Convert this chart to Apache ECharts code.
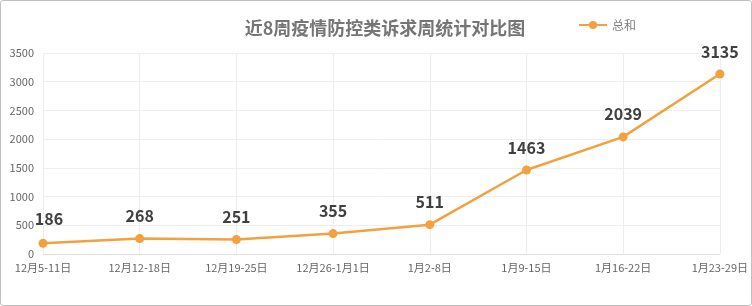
<!DOCTYPE html>
<html><head><meta charset="utf-8">
<script src="https://cdn.jsdelivr.net/npm/echarts@6/dist/echarts.min.js"></script>
<style>
html,body{margin:0;padding:0;background:#fff;}
#c{width:750px;height:304px;border:1px solid #c0c0c0;border-radius:3px;}
</style></head>
<body><div id="c"></div>
<script>
const categories = ['12月5-11日','12月12-18日','12月19-25日','12月26-1月1日','1月2-8日','1月9-15日','1月16-22日','1月23-29日'];
const totals = [186, 268, 251, 355, 511, 1463, 2039, 3135];
const seriesName = '总和';
const titleText = '近8周疫情防控类诉求周统计对比图';

const chart = echarts.init(document.getElementById('c'));
const font = '"Noto Sans CJK SC", "Microsoft YaHei", sans-serif';
const data = totals.map((v, i) => i === 0
  ? {value: v, label: {offset: [6, -2]}}
  : v);
chart.setOption({
  animation: false,
  textStyle: {fontFamily: font},
  title: {
    text: titleText, left: 379, top: 13, textAlign: 'center',
    textStyle: {fontSize: 18, fontWeight: 'bold', color: '#757575', fontFamily: font}
  },
  legend: {
    data: [seriesName], left: 572, top: 13,
    itemWidth: 28, itemHeight: 10, itemGap: 4,
    textStyle: {fontSize: 12, color: '#808080', fontFamily: font}
  },
  grid: {left: 42, right: 29, top: 52, bottom: 51, containLabel: false},
  xAxis: {
    type: 'category', data: categories, boundaryGap: false,
    axisLine: {lineStyle: {color: '#e0e0e0'}},
    axisTick: {show: false},
    axisLabel: {color: '#666', fontSize: 11, margin: 8, interval: 0, fontFamily: font},
    splitLine: {show: true, lineStyle: {color: '#eeeeee'}}
  },
  yAxis: {
    type: 'value', min: 0, max: 3500, interval: 500,
    axisLine: {show: false}, axisTick: {show: false},
    axisLabel: {color: '#666', fontSize: 11, margin: 9, fontFamily: font, formatter: v => String(v)},
    splitLine: {lineStyle: {color: '#eeeeee'}}
  },
  series: [{
    name: seriesName, type: 'line', data: data,
    symbol: 'circle', symbolSize: 9,
    itemStyle: {color: '#F2A13E'},
    lineStyle: {color: '#F2A13E', width: 2.5},
    label: {
      show: true, position: 'top', distance: 10,
      fontSize: 16, fontWeight: 'bold', color: '#404040', fontFamily: font
    }
  }]
});
</script></body></html>
